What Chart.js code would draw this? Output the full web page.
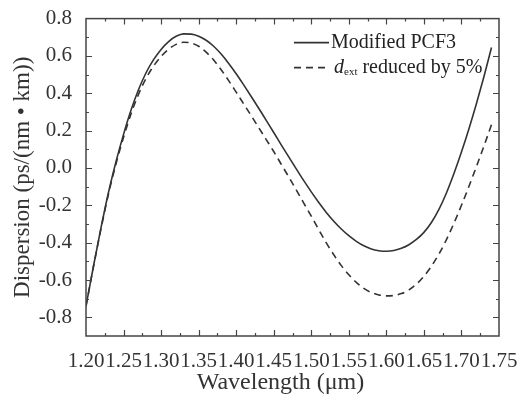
<!DOCTYPE html>
<html>
<head>
<meta charset="utf-8">
<script src="https://cdn.jsdelivr.net/npm/chart.js@4.4.1/dist/chart.umd.min.js"></script>
<style>
  html, body { margin: 0; padding: 0; background: #fff; }
  #wrap { width: 524px; height: 397px; }
</style>
</head>
<body>
<div id="wrap"><canvas id="dispersionChart"></canvas></div>
<script>
const wavelength = [
  1.20, 1.21, 1.22, 1.23, 1.24, 1.25, 1.26, 1.27, 1.28, 1.29,
  1.30, 1.31, 1.32, 1.33, 1.34, 1.35, 1.36, 1.37, 1.38, 1.39,
  1.40, 1.41, 1.42, 1.43, 1.44, 1.45, 1.46, 1.47, 1.48, 1.49,
  1.50, 1.51, 1.52, 1.53, 1.54, 1.55, 1.56, 1.57, 1.58, 1.59,
  1.60, 1.61, 1.62, 1.63, 1.64, 1.65, 1.66, 1.67, 1.68, 1.69,
  1.70, 1.71, 1.72, 1.73, 1.74
];
const dispModified = [
  -0.74, -0.525, -0.32, -0.13, 0.035, 0.18, 0.31, 0.42, 0.51, 0.58,
  0.635, 0.677, 0.705, 0.718, 0.717, 0.706, 0.684, 0.652, 0.610, 0.560,
  0.505, 0.445, 0.383, 0.320, 0.255, 0.190, 0.124, 0.059, -0.005, -0.068,
  -0.128, -0.185, -0.238, -0.285, -0.327, -0.363, -0.393, -0.417, -0.434, -0.443,
  -0.446, -0.442, -0.430, -0.411, -0.383, -0.345, -0.292, -0.222, -0.134, -0.03,
  0.085, 0.21, 0.345, 0.49, 0.645
];
const dispReduced = [
  -0.74, -0.527, -0.325, -0.138, 0.023, 0.164, 0.29, 0.395, 0.48, 0.546,
  0.597, 0.636, 0.662, 0.673, 0.669, 0.652, 0.62, 0.578, 0.526, 0.468,
  0.406, 0.343, 0.28, 0.216, 0.152, 0.088, 0.020, -0.048, -0.117, -0.188,
  -0.258, -0.331, -0.401, -0.465, -0.523, -0.572, -0.613, -0.645, -0.667, -0.680,
  -0.685, -0.683, -0.673, -0.653, -0.622, -0.58, -0.526, -0.461, -0.384, -0.296,
  -0.2, -0.098, 0.008, 0.118, 0.232
];
const xTicks = [1.20, 1.25, 1.30, 1.35, 1.40, 1.45, 1.50, 1.55, 1.60, 1.65, 1.70, 1.75];
const yTicks = [-0.8, -0.6, -0.4, -0.2, 0.0, 0.2, 0.4, 0.6, 0.8];
const seriesNames = ['Modified PCF3', 'reduced by 5%'];

const serif = '"Liberation Serif", "DejaVu Serif", serif';
const ink = '#333';

// frame with inward ticks on all four sides
const frameTicks = {
  id: 'frameTicks',
  afterDraw(chart) {
    const { ctx, chartArea: a, scales: { x, y } } = chart;
    ctx.save();
    ctx.strokeStyle = '#444';
    ctx.lineWidth = 1.5;
    ctx.strokeRect(a.left, a.top, a.right - a.left, a.bottom - a.top);
    ctx.lineWidth = 1.2;
    ctx.beginPath();
    for (let i = 1; i < 22; i++) {
      const px = Math.round(x.getPixelForValue(x.min + i * 0.025)) + 0.5;
      const len = i % 2 ? 3 : 6;
      ctx.moveTo(px, a.bottom); ctx.lineTo(px, a.bottom - len);
      ctx.moveTo(px, a.top); ctx.lineTo(px, a.top + len);
    }
    for (let i = 1; i < 17; i++) {
      const py = Math.round(y.getPixelForValue(y.min + i * 0.1)) + 0.5;
      const len = i % 2 ? 6 : 3;
      ctx.moveTo(a.left, py); ctx.lineTo(a.left + len, py);
      ctx.moveTo(a.right, py); ctx.lineTo(a.right - len, py);
    }
    ctx.stroke();
    ctx.restore();
  }
};

// legend with the italic d and subscript "ext"
const legendBox = {
  id: 'legendBox',
  afterDatasetsDraw(chart) {
    const { ctx, chartArea: a } = chart;
    const x0 = a.right - 205;
    const r1 = a.top + 24;
    const r2 = a.top + 49;
    ctx.save();
    ctx.strokeStyle = ink;
    ctx.lineWidth = 1.6;
    ctx.beginPath(); ctx.moveTo(x0, r1); ctx.lineTo(x0 + 35, r1); ctx.stroke();
    ctx.setLineDash([7, 5]);
    ctx.beginPath(); ctx.moveTo(x0, r2); ctx.lineTo(x0 + 36, r2); ctx.stroke();
    ctx.setLineDash([]);
    ctx.fillStyle = '#222';
    ctx.textBaseline = 'middle';
    ctx.font = '20px ' + serif;
    ctx.fillText(seriesNames[0], x0 + 37, r1);
    ctx.font = 'italic 20px ' + serif;
    ctx.fillText('d', x0 + 40, r2);
    let cx = x0 + 40 + ctx.measureText('d').width;
    ctx.font = '11px ' + serif;
    ctx.fillText('ext', cx, r2 + 5);
    cx += ctx.measureText('ext').width;
    ctx.font = '20px ' + serif;
    ctx.fillText(' ' + seriesNames[1], cx, r2);
    ctx.restore();
  }
};

new Chart(document.getElementById('dispersionChart'), {
  type: 'line',
  data: {
    datasets: [
      {
        label: seriesNames[0],
        data: wavelength.map((w, i) => ({ x: w, y: dispModified[i] })),
        borderColor: ink,
        borderWidth: 1.6,
        pointRadius: 0,
        cubicInterpolationMode: 'monotone'
      },
      {
        label: seriesNames[1],
        data: wavelength.map((w, i) => ({ x: w, y: dispReduced[i] })),
        borderColor: ink,
        borderWidth: 1.6,
        borderDash: [7, 5],
        pointRadius: 0,
        cubicInterpolationMode: 'monotone'
      }
    ]
  },
  options: {
    responsive: true,
    maintainAspectRatio: false,
    animation: false,
    devicePixelRatio: 1,
    layout: { padding: { top: 14, right: 25, left: 0, bottom: 0 } },
    plugins: {
      legend: { display: false },
      tooltip: { enabled: false }
    },
    scales: {
      x: {
        type: 'linear',
        min: 1.2,
        max: 1.75,
        afterBuildTicks: s => { s.ticks = xTicks.map(v => ({ value: v })); },
        afterFit: s => { s.height = 61; },
        grid: { display: false },
        border: { display: false },
        ticks: {
          color: ink,
          font: { family: serif, size: 21 },
          padding: 5,
          maxRotation: 0,
          autoSkip: false,
          callback: v => v.toFixed(2)
        },
        title: {
          display: true,
          text: 'Wavelength (\u03bcm)' + '\u00a0'.repeat(4),
          color: ink,
          font: { family: serif, size: 24 },
          padding: { top: 0, bottom: 0 }
        }
      },
      y: {
        min: -0.9,
        max: 0.8,
        afterBuildTicks: s => { s.ticks = yTicks.map(v => ({ value: v })); },
        afterFit: s => { s.width = 86; },
        grid: { display: false },
        border: { display: false },
        ticks: {
          color: ink,
          font: { family: serif, size: 21 },
          padding: 6,
          callback: v => v.toFixed(1)
        },
        title: {
          display: true,
          text: 'Dispersion (ps/(nm \u2022 km))',
          color: ink,
          font: { family: serif, size: 23 },
          padding: { top: 9, bottom: 0 }
        }
      }
    }
  },
  plugins: [frameTicks, legendBox]
});
</script>
</body>
</html>
